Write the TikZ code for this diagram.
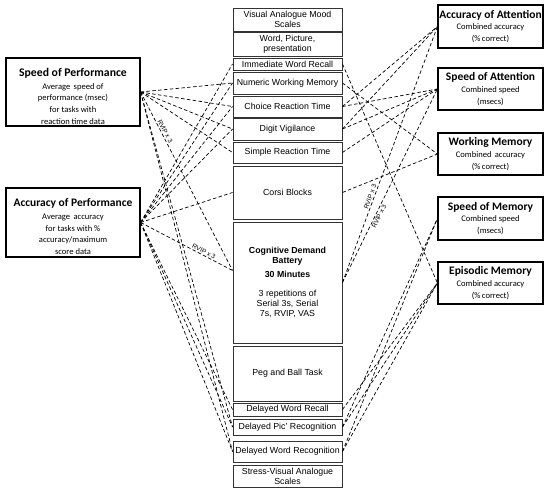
\documentclass[tikz,border=0pt]{standalone}
\usepackage{fontspec}
\setmainfont{Liberation Sans}
\newfontfamily\calfont{Carlito}

\begin{document}
\begin{tikzpicture}[x=0.03cm, y=-0.03cm,
    task/.style={draw=black!80, line width=0.8pt, minimum width=3.27cm, inner sep=0pt, align=center, font=\fontsize{7.5}{8.6}\selectfont},
    measure/.style={draw, line width=1pt, inner sep=0pt, align=center},
    factor/.style={measure, minimum width=4.02cm, font=\calfont\fontsize{7.3}{10}\selectfont},
    cogdomain/.style={measure, minimum width=3.15cm, font=\calfont\fontsize{7.3}{10}\selectfont},
    link/.style={densely dashed, line width=0.6pt},
    rvip/.style={sloped, font=\fontsize{5.5}{6}\selectfont, inner sep=1pt}]
    \useasboundingbox (0,0) rectangle (550,489);

    \node[task, minimum height=0.69cm] (vams) at (287.5,19.5) {Visual Analogue Mood\\Scales};
    \node[task, minimum height=0.72cm] (wpp) at (287.5,44) {Word, Picture,\\presentation};
    \node[task, minimum height=0.36cm] (iwr) at (287.5,64) {Immediate Word Recall};
    \node[task, minimum height=0.66cm] (nwm) at (287.5,83) {Numeric Working Memory};
    \node[task, minimum height=0.63cm] (crt) at (287.5,106.5) {Choice Reaction Time};
    \node[task, minimum height=0.66cm] (dv) at (287.5,129) {Digit Vigilance};
    \node[task, minimum height=0.63cm] (srt) at (287.5,152.5) {Simple Reaction Time};
    \node[task, minimum height=1.59cm] (corsi) at (287.5,192.5) {Corsi Blocks};
    \node[task, minimum height=3.63cm] (cdb) at (287.5,282.5) {\textbf{Cognitive Demand}\\\textbf{Battery}\\[3pt]\textbf{30 Minutes}\\[8pt]3 repetitions of\\Serial 3s, Serial\\7s, RVIP, VAS};
    \node[task, minimum height=1.65cm] (peg) at (287.5,373.5) {Peg and Ball Task};
    \node[task, minimum height=0.39cm] (dwr) at (287.5,409.5) {Delayed Word Recall};
    \node[task, minimum height=0.48cm] (dpr) at (287.5,427) {Delayed Pic' Recognition};
    \node[task, minimum height=0.63cm] (dwrec) at (287.5,451.5) {Delayed Word Recognition};
    \node[task, minimum height=0.66cm] (svas) at (287.5,476) {Stress-Visual Analogue\\Scales};

    \node[factor, minimum height=2.04cm] (sp) at (73,92) {{\rule{0pt}{14pt}\bfseries\fontsize{10}{12}\selectfont Speed of Performance}\\[1pt]Average\, speed of\\performance (msec)\\for tasks with\\reaction time data};
    \node[factor, minimum height=2.07cm] (ap) at (73,222.5) {{\rule{0pt}{14pt}\bfseries\fontsize{9.8}{12}\selectfont Accuracy of Performance}\\[1pt]Average\, accuracy\\for tasks with \%\\accuracy/maximum\\score data};

    \node[cogdomain, minimum height=1.29cm] (aa) at (490.5,26.5) {{\bfseries\fontsize{9.8}{11}\selectfont Accuracy of Attention}\\Combined accuracy\\(\%\,correct)};
    \node[cogdomain, minimum height=1.26cm] (sa) at (490.5,89) {{\bfseries\fontsize{9.8}{11}\selectfont Speed of Attention}\\Combined speed\\(msecs)};
    \node[cogdomain, minimum height=1.26cm] (wm) at (490.5,154) {{\bfseries\fontsize{9.8}{11}\selectfont Working Memory}\\Combined\, accuracy\\(\%\,correct)};
    \node[cogdomain, minimum height=1.29cm] (sm) at (490.5,218.5) {{\bfseries\fontsize{9.8}{11}\selectfont Speed of Memory}\\Combined speed\\(msecs)};
    \node[cogdomain, minimum height=1.26cm] (em) at (490.5,283) {{\bfseries\fontsize{9.8}{11}\selectfont Episodic Memory}\\Combined accuracy\\(\%\,correct)};

    \draw[link] (sp.east) -- (nwm.west);
    \draw[link] (sp.east) -- (crt.west);
    \draw[link] (sp.east) -- (dv.west);
    \draw[link] (sp.east) -- (srt.west);
    \draw[link] (sp.east) -- ([yshift=0.36cm]cdb.west) node[rvip, above, pos=0.23] {RVIP x 3};
    \draw[link] (sp.east) -- (dpr.west);
    \draw[link] (sp.east) -- (dwrec.west);

    \draw[link] (ap.east) -- (iwr.west);
    \draw[link] (ap.east) -- (nwm.west);
    \draw[link] (ap.east) -- (crt.west);
    \draw[link] (ap.east) -- (dv.west);
    \draw[link] (ap.east) -- (corsi.west);
    \draw[link] (ap.east) -- ([yshift=0.36cm]cdb.west) node[rvip, above, pos=0.67] {RVIP x 3};
    \draw[link] (ap.east) -- (dwr.west);
    \draw[link] (ap.east) -- (dpr.west);
    \draw[link] (ap.east) -- (dwrec.west);

    \draw[link] (crt.east) -- (aa.west);
    \draw[link] (dv.east) -- (aa.west);
    \draw[link] (cdb.east) -- (aa.west) node[rvip, above, pos=0.33] {RVIP x 3};
    \draw[link] (crt.east) -- (sa.west);
    \draw[link] (dv.east) -- (sa.west);
    \draw[link] (srt.east) -- (sa.west);
    \draw[link] (cdb.east) -- (sa.west) node[rvip, below, pos=0.35] {RVIP x 3};
    \draw[link] (nwm.east) -- (wm.west);
    \draw[link] (corsi.east) -- (wm.west);
    \draw[link] (dpr.east) -- (sm.west);
    \draw[link] (dwrec.east) -- (sm.west);
    \draw[link] (iwr.east) -- (em.west);
    \draw[link] (dwr.east) -- (em.west);
    \draw[link] (dpr.east) -- (em.west);
    \draw[link] (dwrec.east) -- (em.west);
\end{tikzpicture}
\end{document}
